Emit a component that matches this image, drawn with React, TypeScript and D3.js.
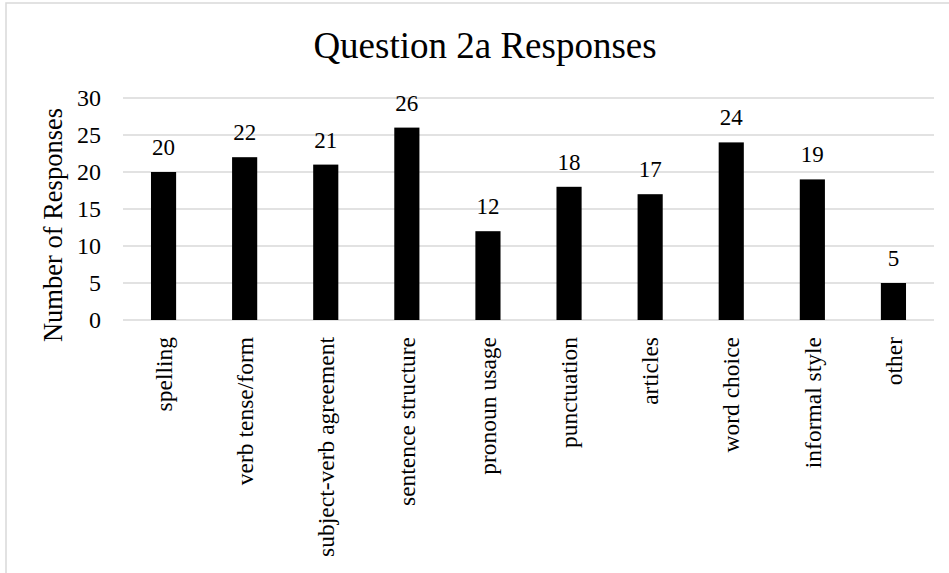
import React from "react";
import * as d3 from "d3";

const categories = [
  "spelling",
  "verb tense/form",
  "subject-verb agreement",
  "sentence structure",
  "pronoun usage",
  "punctuation",
  "articles",
  "word choice",
  "informal style",
  "other",
];
const values = [20, 22, 21, 26, 12, 18, 17, 24, 19, 5];
const yTicks = [0, 5, 10, 15, 20, 25, 30];
const title = "Question 2a Responses";
const yTitle = "Number of Responses";

const W = 949;
const H = 573;
const FONT = "'Liberation Serif', 'Times New Roman', serif";
const GRID = "#d9d9d9";

export default function App() {
  const x = d3
    .scaleBand<string>()
    .domain(categories)
    .range([123, 934])
    .paddingInner(0.69)
    .paddingOuter(0.345);
  const y = d3.scaleLinear().domain([0, 30]).range([320, 98]);

  return (
    <svg
      width={W}
      height={H}
      style={{ position: "absolute", left: 0, top: 0, background: "#fff" }}
      fontFamily={FONT}
    >
      <rect x={0} y={0} width={W} height={H} fill="#fff" />
      <rect x={6} y={3} width={W + 10} height={H + 10} fill="none" stroke={GRID} strokeWidth={1.5} />
      <text x={485} y={58} textAnchor="middle" fontSize={37} fill="#000">
        {title}
      </text>
      {yTicks.map((t) => (
        <g key={t}>
          <line x1={123} x2={934} y1={y(t)} y2={y(t)} stroke={GRID} strokeWidth={1.5} />
          <text x={101} y={y(t)} dy="0.35em" textAnchor="end" fontSize={24} fill="#000">
            {t}
          </text>
        </g>
      ))}
      <text
        transform={`translate(62, 225) rotate(-90)`}
        textAnchor="middle"
        fontSize={26.5}
        fill="#000"
      >
        {yTitle}
      </text>
      {categories.map((c, i) => {
        const bx = x(c) as number;
        const bw = x.bandwidth();
        const cx = bx + bw / 2;
        return (
          <g key={c}>
            <rect x={bx} y={y(values[i])} width={bw} height={y(0) - y(values[i])} fill="#000" />
            <text x={cx} y={y(values[i]) - 17} textAnchor="middle" fontSize={23} fill="#000">
              {values[i]}
            </text>
            <text
              transform={`translate(${cx}, 337) rotate(-90)`}
              dy="0.35em"
              textAnchor="end"
              fontSize={23.5}
              fill="#000"
            >
              {c}
            </text>
          </g>
        );
      })}
    </svg>
  );
}
